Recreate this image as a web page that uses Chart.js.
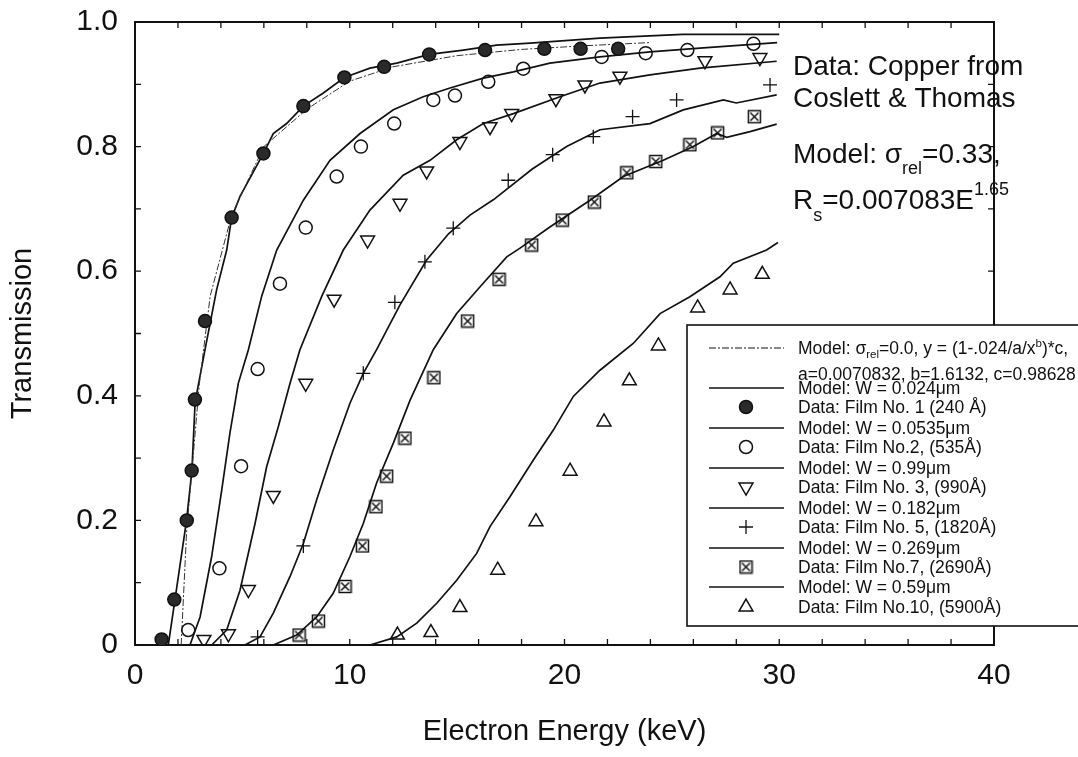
<!DOCTYPE html>
<html>
<head>
<meta charset="utf-8">
<title>Electron transmission through copper films</title>
<script src="https://cdn.jsdelivr.net/npm/chart.js@4/dist/chart.umd.min.js"></script>
<style>
  html, body { margin: 0; padding: 0; background: #fff; }
  #wrap { width: 1078px; height: 757px; }
</style>
</head>
<body>
<div id="wrap"><canvas id="c" width="1078" height="757"></canvas></div>
<script>
// ---- axis labels ----
const xTickLabels = ['0', '10', '20', '30', '40'];
const yTickLabels = ['0', '0.2', '0.4', '0.6', '0.8', '1.0'];

// ---- measured transmission (Coslett & Thomas, copper) ----
const film1E = [1.24, 1.83, 2.41, 2.64, 2.79, 3.26, 4.5, 5.98, 7.84, 9.75, 11.6, 13.7, 16.3, 19.06, 20.75, 22.5];
const film1T = [0.009, 0.073, 0.20, 0.28, 0.394, 0.52, 0.686, 0.789, 0.865, 0.911, 0.928, 0.948, 0.955, 0.957, 0.957, 0.957];

const film2E = [2.48, 3.93, 4.94, 5.71, 6.75, 7.95, 9.39, 10.52, 12.07, 13.89, 14.9, 16.45, 18.08, 21.73, 23.78, 25.72, 28.8];
const film2T = [0.024, 0.123, 0.287, 0.443, 0.58, 0.67, 0.752, 0.80, 0.837, 0.875, 0.882, 0.904, 0.925, 0.944, 0.95, 0.955, 0.965];

const film3E = [3.21, 4.35, 5.28, 6.44, 7.95, 9.27, 10.83, 12.34, 13.58, 15.13, 16.53, 17.54, 19.6, 20.95, 22.58, 26.54, 29.1];
const film3T = [0.009, 0.018, 0.089, 0.24, 0.42, 0.555, 0.65, 0.709, 0.761, 0.808, 0.832, 0.853, 0.877, 0.899, 0.913, 0.938, 0.943];

const film5E = [5.71, 7.84, 10.63, 12.1, 13.5, 14.82, 17.38, 19.45, 21.34, 23.17, 25.22, 29.57];
const film5T = [0.013, 0.159, 0.436, 0.55, 0.615, 0.669, 0.746, 0.787, 0.816, 0.848, 0.875, 0.899];

const film7E = [7.64, 8.54, 9.78, 10.59, 11.22, 11.72, 12.57, 13.92, 15.49, 16.95, 18.47, 19.9, 21.39, 22.9, 24.25, 25.84, 27.13, 28.84];
const film7T = [0.016, 0.0385, 0.094, 0.159, 0.222, 0.271, 0.332, 0.429, 0.52, 0.587, 0.642, 0.682, 0.711, 0.758, 0.776, 0.803, 0.822, 0.848];

const film10E = [12.22, 13.78, 15.13, 16.89, 18.67, 20.26, 21.84, 23.02, 24.37, 26.2, 27.71, 29.21];
const film10T = [0.016, 0.02, 0.06, 0.12, 0.198, 0.279, 0.358, 0.424, 0.48, 0.541, 0.57, 0.595];

// ---- model curves ----
const fitE = [2.15, 2.4, 3.0, 3.5, 4.5, 6.0, 8.0, 10.0, 12.0, 15.0, 18.0, 21.0, 24.0];
const fitT = [0.0, 0.18, 0.42, 0.56, 0.69, 0.80, 0.86, 0.905, 0.928, 0.946, 0.956, 0.962, 0.967];

const modelW024E = [1.55, 1.85, 2.4, 2.65, 2.8, 3.26, 3.8, 4.27, 4.5, 4.89, 5.98, 6.44, 7.06, 7.84, 8.77, 9.75, 10.94, 12.19, 13.7, 15.29, 16.84, 18.4, 21.65, 25.5, 30];
const modelW024T = [0.0, 0.07, 0.2, 0.28, 0.39, 0.474, 0.57, 0.634, 0.686, 0.72, 0.789, 0.821, 0.837, 0.865, 0.886, 0.911, 0.926, 0.934, 0.948, 0.955, 0.963, 0.966, 0.974, 0.98, 0.98];

const modelW0535E = [2.56, 3.03, 3.57, 4.04, 4.42, 4.81, 5.28, 5.9, 6.6, 7.84, 9.08, 10.48, 12.03, 13.42, 14.67, 16.22, 17.62, 19.32, 21.65, 23.98, 26.3, 29.9];
const modelW0535T = [0.0, 0.045, 0.142, 0.249, 0.34, 0.42, 0.474, 0.56, 0.634, 0.714, 0.778, 0.821, 0.859, 0.88, 0.894, 0.91, 0.92, 0.934, 0.944, 0.952, 0.958, 0.967];

const modelW099E = [3.57, 4.27, 4.89, 5.59, 6.13, 6.67, 7.22, 7.68, 8.7, 9.7, 10.94, 12.49, 13.74, 14.98, 16.22, 17.62, 19.79, 21.65, 23.98, 26.31, 29.88];
const modelW099T = [0.0, 0.024, 0.088, 0.195, 0.286, 0.35, 0.42, 0.474, 0.56, 0.634, 0.698, 0.754, 0.778, 0.811, 0.837, 0.853, 0.88, 0.902, 0.915, 0.926, 0.937];

const modelW182E = [5.12, 5.82, 6.44, 7.22, 7.84, 8.46, 9.23, 10.01, 10.63, 11.25, 12.34, 13.58, 14.6, 15.6, 16.7, 18.5, 20.1, 21.65, 23.98, 25.53, 27.4, 28.0, 29.88];
const modelW182T = [0.0, 0.013, 0.051, 0.11, 0.163, 0.233, 0.313, 0.388, 0.436, 0.474, 0.546, 0.618, 0.66, 0.69, 0.715, 0.764, 0.80, 0.827, 0.837, 0.859, 0.875, 0.87, 0.883];

const modelW269E = [6.44, 7.53, 8.46, 9.23, 10.01, 10.63, 11.25, 12.03, 12.81, 13.89, 14.98, 16.07, 17.31, 17.93, 19.32, 21.19, 22.74, 24.6, 26.0, 27.09, 27.55, 28.64, 29.88];
const modelW269T = [0.0, 0.016, 0.045, 0.083, 0.142, 0.195, 0.26, 0.324, 0.393, 0.474, 0.532, 0.575, 0.623, 0.637, 0.671, 0.714, 0.752, 0.778, 0.80, 0.821, 0.815, 0.824, 0.836];

const modelW59E = [10.94, 12.19, 13.12, 14.05, 14.98, 15.91, 16.53, 17.46, 18.55, 19.48, 20.41, 21.65, 23.2, 24.45, 25.84, 27.24, 27.86, 29.41, 29.94];
const modelW59T = [0.0, 0.013, 0.035, 0.067, 0.104, 0.147, 0.19, 0.238, 0.297, 0.345, 0.399, 0.441, 0.484, 0.532, 0.559, 0.591, 0.613, 0.634, 0.646];

const FONT = '"Liberation Sans", Arial, Helvetica, sans-serif';
const INK = '#111';

function pairs(xs, ys) { return xs.map((v, i) => ({ x: v, y: ys[i] })); }

// square with a diagonal cross, used for film No.7
function boxCross(size) {
  const c = document.createElement('canvas');
  c.width = c.height = size;
  const g = c.getContext('2d');
  g.strokeStyle = INK; g.lineWidth = 1.5;
  g.strokeRect(1.5, 1.5, size - 3, size - 3);
  g.beginPath();
  g.moveTo(3.5, 3.5); g.lineTo(size - 3.5, size - 3.5);
  g.moveTo(size - 3.5, 3.5); g.lineTo(3.5, size - 3.5);
  g.stroke();
  return c;
}
const boxCrossImg = boxCross(15);

function lineSet(label, xs, ys, dash) {
  return {
    label, data: pairs(xs, ys), showLine: true, pointRadius: 0,
    borderColor: dash ? '#333' : INK, borderWidth: dash ? 1 : 1.7,
    borderDash: dash || [], tension: 0, order: 2
  };
}
function pointSet(label, xs, ys, style) {
  return Object.assign({
    label, data: pairs(xs, ys), showLine: false,
    borderColor: INK, backgroundColor: 'rgba(0,0,0,0)', borderWidth: 1.5, order: 1
  }, style);
}

const datasets = [
  lineSet('Model: σrel=0.0', fitE, fitT, [7, 2, 2, 2]),
  lineSet('Model: W = 0.024μm', modelW024E, modelW024T),
  pointSet('Data: Film No. 1 (240 Å)', film1E, film1T, { pointStyle: 'circle', pointRadius: 6.5, backgroundColor: '#2a2a2a' }),
  lineSet('Model: W = 0.0535μm', modelW0535E, modelW0535T),
  pointSet('Data: Film No.2, (535Å)', film2E, film2T, { pointStyle: 'circle', pointRadius: 6.5 }),
  lineSet('Model: W = 0.99μm', modelW099E, modelW099T),
  pointSet('Data: Film No. 3, (990Å)', film3E, film3T, { pointStyle: 'triangle', pointRadius: 8, rotation: 180 }),
  lineSet('Model: W = 0.182μm', modelW182E, modelW182T),
  pointSet('Data: Film No. 5, (1820Å)', film5E, film5T, { pointStyle: 'cross', pointRadius: 7, borderWidth: 1.3 }),
  lineSet('Model: W = 0.269μm', modelW269E, modelW269T),
  pointSet('Data: Film No.7, (2690Å)', film7E, film7T, { pointStyle: boxCrossImg }),
  lineSet('Model: W = 0.59μm', modelW59E, modelW59T),
  pointSet('Data: Film No.10, (5900Å)', film10E, film10T, { pointStyle: 'triangle', pointRadius: 8 })
];

// frame round the plot with small inward ticks on all four sides
const framePlugin = {
  id: 'frame',
  beforeDatasetsDraw(chart) {
    const { ctx, chartArea: a, scales: { x, y } } = chart;
    ctx.save();
    ctx.strokeStyle = INK;
    ctx.lineWidth = 2;
    ctx.strokeRect(a.left, a.top, a.right - a.left, a.bottom - a.top);
    ctx.lineWidth = 1.3;
    ctx.beginPath();
    for (let v = 0; v <= 40; v += 2) {
      const px = x.getPixelForValue(v);
      ctx.moveTo(px, a.bottom); ctx.lineTo(px, a.bottom - 6);
      ctx.moveTo(px, a.top); ctx.lineTo(px, a.top + 6);
    }
    for (let i = 0; i <= 10; i++) {
      const py = y.getPixelForValue(i / 10);
      ctx.moveTo(a.left, py); ctx.lineTo(a.left + 6, py);
      ctx.moveTo(a.right, py); ctx.lineTo(a.right - 6, py);
    }
    ctx.stroke();
    ctx.restore();
  }
};

// draws a run of text pieces; each piece may be lowered (dy>0) or raised (dy<0)
function drawRich(ctx, x, y, parts) {
  let cx = x;
  for (const p of parts) {
    ctx.font = p.size + 'px ' + FONT;
    ctx.fillText(p.t, cx, y + (p.dy || 0));
    cx += ctx.measureText(p.t).width;
  }
}

function drawSymbol(ctx, kind, cx, cy) {
  ctx.save();
  ctx.strokeStyle = INK; ctx.fillStyle = INK;
  if (kind === 'dash' || kind === 'line') {
    ctx.lineWidth = kind === 'dash' ? 1 : 1.7;
    ctx.setLineDash(kind === 'dash' ? [7, 2, 2, 2] : []);
    ctx.beginPath(); ctx.moveTo(cx - 37, cy); ctx.lineTo(cx + 38, cy); ctx.stroke();
  } else if (kind === 'disc' || kind === 'ring') {
    ctx.lineWidth = 1.5;
    ctx.beginPath(); ctx.arc(cx, cy, 6.5, 0, Math.PI * 2);
    if (kind === 'disc') { ctx.fillStyle = '#2a2a2a'; ctx.fill(); }
    ctx.stroke();
  } else if (kind === 'down' || kind === 'up') {
    const s = kind === 'down' ? -1 : 1, r = 8;
    ctx.lineWidth = 1.5;
    ctx.beginPath();
    ctx.moveTo(cx, cy - s * r);
    ctx.lineTo(cx + r * 0.866, cy + s * r * 0.5);
    ctx.lineTo(cx - r * 0.866, cy + s * r * 0.5);
    ctx.closePath(); ctx.stroke();
  } else if (kind === 'plus') {
    ctx.lineWidth = 1.3;
    ctx.beginPath();
    ctx.moveTo(cx - 7, cy); ctx.lineTo(cx + 7, cy);
    ctx.moveTo(cx, cy - 7); ctx.lineTo(cx, cy + 7);
    ctx.stroke();
  } else if (kind === 'box') {
    ctx.drawImage(boxCrossImg, cx - 7.5, cy - 7.5);
  }
  ctx.restore();
}

// legend rows: symbol kind, y centre, text pieces
const LS = 17.5, LSUB = 11.5;
const legendRows = [
  ['dash', 348, [{ t: 'Model: σ', size: LS }, { t: 'rel', size: LSUB, dy: 4 }, { t: '=0.0, y = (1-.024/a/x', size: LS }, { t: 'b', size: LSUB, dy: -7 }, { t: ')*c,', size: LS }]],
  [null, 374, [{ t: 'a=0.0070832, b=1.6132, c=0.98628', size: LS }]],
  ['line', 388, [{ t: 'Model: W = 0.024μm', size: LS }]],
  ['disc', 407, [{ t: 'Data: Film No. 1 (240 Å)', size: LS }]],
  ['line', 428, [{ t: 'Model: W = 0.0535μm', size: LS }]],
  ['ring', 447, [{ t: 'Data: Film No.2, (535Å)', size: LS }]],
  ['line', 468, [{ t: 'Model: W = 0.99μm', size: LS }]],
  ['down', 487, [{ t: 'Data: Film No. 3, (990Å)', size: LS }]],
  ['line', 508, [{ t: 'Model: W = 0.182μm', size: LS }]],
  ['plus', 527, [{ t: 'Data: Film No. 5, (1820Å)', size: LS }]],
  ['line', 548, [{ t: 'Model: W = 0.269μm', size: LS }]],
  ['box', 567, [{ t: 'Data: Film No.7, (2690Å)', size: LS }]],
  ['line', 587, [{ t: 'Model: W = 0.59μm', size: LS }]],
  ['up', 607, [{ t: 'Data: Film No.10, (5900Å)', size: LS }]]
];

const notesPlugin = {
  id: 'notes',
  afterDraw(chart) {
    const ctx = chart.ctx;
    ctx.save();
    ctx.fillStyle = INK;
    ctx.textBaseline = 'alphabetic';
    ctx.textAlign = 'left';
    // annotation in the upper right
    drawRich(ctx, 793, 75, [{ t: 'Data: Copper from', size: 28 }]);
    drawRich(ctx, 793, 107, [{ t: 'Coslett & Thomas', size: 28 }]);
    drawRich(ctx, 793, 163, [{ t: 'Model: σ', size: 28 }, { t: 'rel', size: 18, dy: 11 }, { t: '=0.33,', size: 28 }]);
    drawRich(ctx, 793, 209, [{ t: 'R', size: 28 }, { t: 's', size: 18, dy: 12 }, { t: '=0.007083E', size: 28 }, { t: '1.65', size: 18, dy: -14 }]);

    // legend box
    const L = 687, T = 325, B = 626;
    ctx.fillStyle = '#fff';
    ctx.fillRect(L, T, 1078 - L + 10, B - T);
    ctx.strokeStyle = INK; ctx.lineWidth = 1.6;
    ctx.strokeRect(L, T, 1078 - L + 10, B - T);
    ctx.fillStyle = INK;
    for (const [kind, cy, parts] of legendRows) {
      if (kind) drawSymbol(ctx, kind, 746, cy);
      drawRich(ctx, 798, cy + 6, parts);
    }
    ctx.restore();
  }
};

new Chart(document.getElementById('c'), {
  type: 'scatter',
  data: { datasets },
  options: {
    responsive: false,
    animation: false,
    devicePixelRatio: 1,
    layout: { padding: { top: 22, right: 84, left: 0, bottom: 0 } },
    plugins: { legend: { display: false }, tooltip: { enabled: false } },
    scales: {
      x: {
        type: 'linear', min: 0, max: 40,
        afterFit(s) { s.height = 112; s.paddingLeft = 0; s.paddingRight = 0; },
        grid: { display: false },
        border: { display: false },
        ticks: {
          stepSize: 10, color: INK, padding: 5,
          font: { family: FONT, size: 30 },
          maxRotation: 0,
          callback: (v, i) => xTickLabels[i]
        },
        title: {
          display: true, text: 'Electron Energy (keV)', color: INK,
          font: { family: FONT, size: 29 }, padding: { top: 0, bottom: 8 }
        }
      },
      y: {
        type: 'linear', min: 0, max: 1,
        afterFit(s) { s.width = 135; s.paddingTop = 0; s.paddingBottom = 0; },
        grid: { display: false },
        border: { display: false },
        ticks: {
          stepSize: 0.2, color: INK, padding: 9,
          font: { family: FONT, size: 30 },
          callback: (v, i) => yTickLabels[i]
        },
        title: {
          display: true, text: 'Transmission', color: INK,
          font: { family: FONT, size: 29 }, padding: { top: 6, bottom: 0 }
        }
      }
    }
  },
  plugins: [framePlugin, notesPlugin]
});
</script>
</body>
</html>
